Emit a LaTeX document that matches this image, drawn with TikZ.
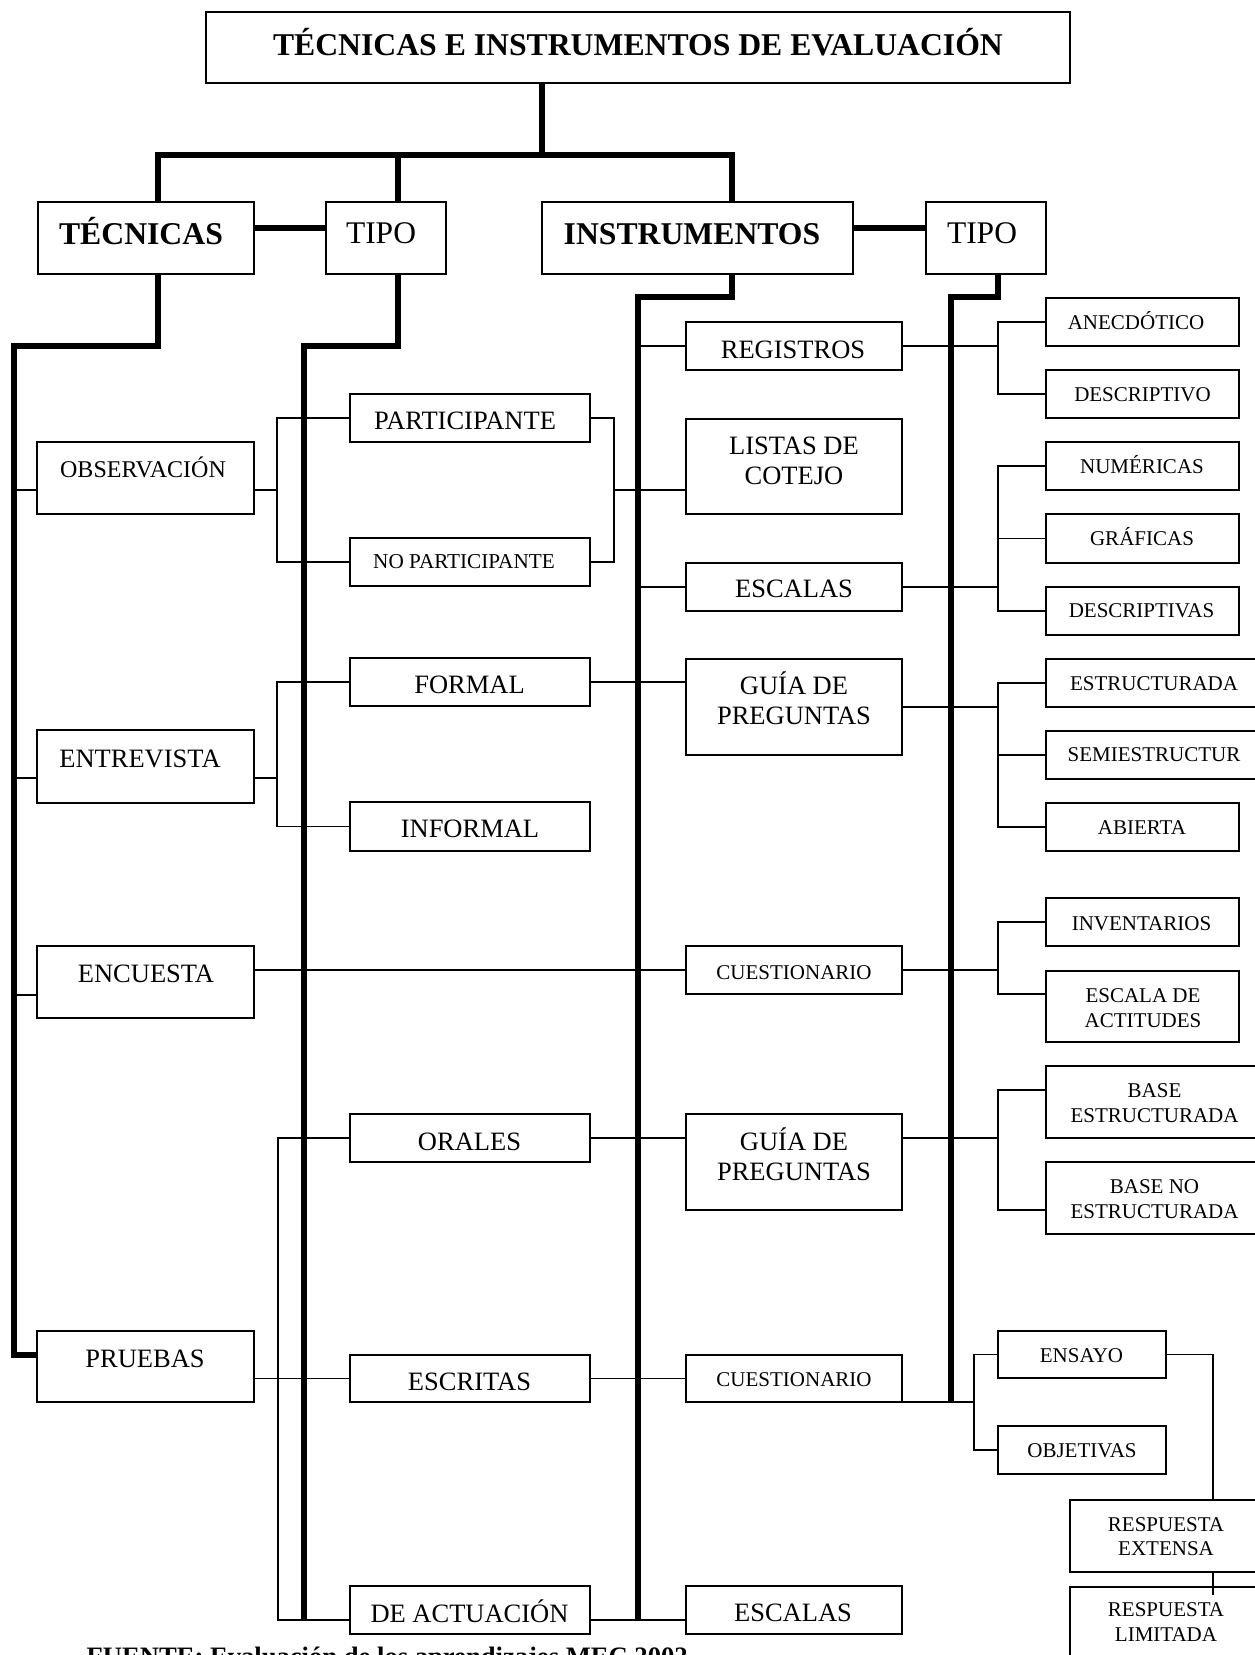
\documentclass[tikz,border=0pt]{standalone}
\usepackage{fontspec}
\setmainfont{Liberation Serif}
\newcommand\fzBold{\bfseries\fontsize{31.7}{36}\selectfont}
\newcommand\fzTipo{\fontsize{31.5}{36}\selectfont}
\newcommand\fzBig{\fontsize{26.5}{30.5}\selectfont}
\newcommand\fzObs{\fontsize{24}{28}\selectfont}
\newcommand\fzNop{\fontsize{21.2}{25}\selectfont}
\newcommand\fzSmall{\fontsize{21}{25}\selectfont}
\newcommand\twol[2]{\vtop{\halign{\hfil##\hfil\cr#1\cr#2\cr}}}
\newcommand\bx[5]{\node[box,minimum width={(#4-#2)*1pt},minimum height={(#5-#3)*1pt}] (#1) at (#2,#3) {};}
\newcommand\tx[5]{\node[txt,font=#4] (#1) at (#2,#3) {#5};}
\tikzset{
  box/.style={draw,line width=1.8pt,anchor=north west,inner sep=0pt,outer sep=0pt},
  txt/.style={anchor=base,inner sep=0pt},
  conn/.style={line width=1.8pt},
  trunk/.style={line width=5.5pt}
}
\begin{document}
\begin{tikzpicture}[x=1pt,y=-1pt]
\useasboundingbox (0,0) rectangle (1255,1655);
% ---------- boxes
\bx{title}{206}{12}{1070}{83}
\bx{tec}{38}{202}{254}{274}
\bx{tipoL}{326}{202}{446}{274}
\bx{ins}{542}{202}{853}{274}
\bx{tipoR}{926}{202}{1046}{274}
\bx{obs}{37}{442}{254}{514}
\bx{ent}{37}{730}{254}{803}
\bx{enc}{37}{946}{254}{1018}
\bx{pru}{37}{1331}{254}{1402}
\bx{par}{350}{394}{590}{442}
\bx{nop}{350}{538}{590}{586}
\bx{for}{350}{658}{590}{706}
\bx{inf}{350}{802}{590}{851}
\bx{ora}{350}{1114}{590}{1162}
\bx{esc}{350}{1355}{590}{1402}
\bx{act}{350}{1586}{590}{1634}
\bx{reg}{686}{322}{902}{370}
\bx{lis}{686}{419}{902}{514}
\bx{esl}{686}{563}{902}{611}
\bx{gu1}{686}{659}{902}{755}
\bx{cu1}{686}{946}{902}{994}
\bx{gu2}{686}{1114}{902}{1210}
\bx{cu2}{686}{1355}{902}{1402}
\bx{es2}{686}{1586}{902}{1634}
\bx{ane}{1046}{298}{1239}{346}
\bx{des}{1046}{370}{1239}{418}
\bx{num}{1046}{442}{1239}{490}
\bx{gra}{1046}{514}{1239}{563}
\bx{dsc}{1046}{587}{1239}{635}
\bx{est}{1046}{659}{1262}{707}
\bx{sem}{1046}{731}{1262}{779}
\bx{abi}{1046}{803}{1239}{851}
\bx{inv}{1046}{898}{1239}{946}
\bx{eda}{1046}{971}{1239}{1042}
\bx{bes}{1046}{1066}{1262}{1138}
\bx{bne}{1046}{1162}{1262}{1234}
\bx{ens}{998}{1331}{1166}{1378}
\bx{obj}{998}{1426}{1166}{1474}
\bx{rex}{1070}{1500}{1262}{1572}
\bx{rli}{1070}{1587}{1262}{1690}
% ---------- texts
\tx{title-t}{638}{55}{\fzBold}{TÉCNICAS E INSTRUMENTOS DE EVALUACIÓN}
\tx{tec-t}{141}{244}{\fzBold}{TÉCNICAS}
\tx{tipoL-t}{381}{243}{\fzTipo}{TIPO}
\tx{ins-t}{692}{244}{\fzBold}{INSTRUMENTOS}
\tx{tipoR-t}{982}{243}{\fzTipo}{TIPO}
\tx{obs-t}{143}{477}{\fzObs}{OBSERVACIÓN}
\tx{ent-t}{140}{767}{\fzBig}{ENTREVISTA}
\tx{enc-t}{146}{982}{\fzBig}{ENCUESTA}
\tx{pru-t}{145}{1367}{\fzBig}{PRUEBAS}
\tx{par-t}{465}{429}{\fzBig}{PARTICIPANTE}
\tx{nop-t}{464}{568}{\fzNop}{NO PARTICIPANTE}
\tx{for-t}{469.5}{693}{\fzBig}{FORMAL}
\tx{inf-t}{470}{837}{\fzBig}{INFORMAL}
\tx{ora-t}{469.5}{1150}{\fzBig}{ORALES}
\tx{esc-t}{469.5}{1390.5}{\fzBig}{ESCRITAS}
\tx{act-t}{469.5}{1622}{\fzBig}{DE ACTUACIÓN}
\tx{reg-t}{793}{358}{\fzBig}{REGISTROS}
\tx{lis-t}{794}{454}{\fzBig}{\twol{LISTAS DE}{COTEJO}}
\tx{esl-t}{794}{597}{\fzBig}{ESCALAS}
\tx{gu1-t}{794}{694}{\fzBig}{\twol{GUÍA DE}{PREGUNTAS}}
\tx{cu1-t}{794}{979}{\fzSmall}{CUESTIONARIO}
\tx{gu2-t}{794}{1150}{\fzBig}{\twol{GUÍA DE}{PREGUNTAS}}
\tx{cu2-t}{794}{1386.5}{\fzSmall}{CUESTIONARIO}
\tx{es2-t}{793}{1621}{\fzBig}{ESCALAS}
\tx{ane-t}{1136}{329}{\fzSmall}{ANECDÓTICO}
\tx{des-t}{1142.5}{401}{\fzSmall}{DESCRIPTIVO}
\tx{num-t}{1142}{473.5}{\fzSmall}{NUMÉRICAS}
\tx{gra-t}{1142}{545.5}{\fzSmall}{GRÁFICAS}
\tx{dsc-t}{1141.5}{617}{\fzSmall}{DESCRIPTIVAS}
\tx{est-t}{1154}{690}{\fzSmall}{ESTRUCTURADA}
\tx{sem-t}{1154}{761.6}{\fzSmall}{SEMIESTRUCTUR}
\tx{abi-t}{1142}{834.4}{\fzSmall}{ABIERTA}
\tx{inv-t}{1141.5}{930.5}{\fzSmall}{INVENTARIOS}
\tx{eda-t}{1143}{1002}{\fzSmall}{\twol{ESCALA DE}{ACTITUDES}}
\tx{bes-t}{1154.5}{1097}{\fzSmall}{\twol{BASE}{ESTRUCTURADA}}
\tx{bne-t}{1154.5}{1193.4}{\fzSmall}{\twol{BASE NO}{ESTRUCTURADA}}
\tx{ens-t}{1081.5}{1362}{\fzSmall}{ENSAYO}
\tx{obj-t}{1082}{1457.7}{\fzSmall}{OBJETIVAS}
\tx{rex-t}{1166}{1531.7}{\fontsize{21}{23.5}\selectfont}{\twol{RESPUESTA}{EXTENSA}}
\tx{rli-t}{1166}{1616.7}{\fzSmall}{\twol{RESPUESTA}{LIMITADA}}
\node[anchor=base west,inner sep=0pt,font=\bfseries\fontsize{26.6}{30}\selectfont] (fuente) at (86.5,1665) {FUENTE: Evaluación de los aprendizajes MEC 2002};
% ---------- helper coordinates
\coordinate (bar) at (542,155);
\coordinate (b1) at (158,155);
\coordinate (b2) at (398,155);
\coordinate (b3) at (732,155);
\coordinate (b4) at (998,155);
\coordinate (lk) at (0,228);
\coordinate (tL) at (14,346);
\coordinate (tT) at (304,346);
\coordinate (tI) at (638,297);
\coordinate (tR) at (951,297);
\coordinate (yA) at (0,1620);
\coordinate (k1) at (277,490);
\coordinate (k2) at (614,490);
\coordinate (k3) at (277,778);
\coordinate (k4) at (278,1620);
\coordinate (rc) at (998,0);
\coordinate (rc2) at (974,0);
\coordinate (rx) at (1213,0);
% ---------- thick trunks
\draw[trunk] (title.south -| bar) -- (bar);
\draw[trunk] (tec.north -| b1) -- (b1) -- (b3) -- (ins.north -| b3);
\draw[trunk] (b2) -- (tipoL.north -| b2);
\draw[trunk] (tec.east |- lk) -- (tipoL.west |- lk);
\draw[trunk] (ins.east |- lk) -- (tipoR.west |- lk);
\draw[trunk] (tec.south -| b1) |- (tL) |- (pru.west |- 0,1355);
\draw[trunk] (tipoL.south -| b2) |- (tT) -- (tT |- yA);
\draw[trunk] (ins.south -| b3) |- (tI) -- (tI |- yA);
\draw[trunk] (tipoR.south -| b4) |- (tR) -- (tR |- cu2.south);
% ---------- thin connectors, left
\draw[conn] (tL |- k1) -- (obs.west |- k1);
\draw[conn] (obs.east |- k1) -- (k1);
\draw[conn] (par.west) -| (k1) |- (nop.west);
\draw[conn] (par.east) -| (k2) |- (nop.east);
\draw[conn] (k2) -- (lis.west |- k2);
\draw[conn] (tL |- k3) -- (ent.west |- k3);
\draw[conn] (ent.east |- k3) -- (k3);
\draw[conn] (for.west) -| (k3) |- (inf.west);
\draw[conn] (for.east) -- (gu1.west |- for.east);
\draw[conn] (tL |- 0,995) -- (enc.west |- 0,995);
\draw[conn] (enc.east |- cu1.west) -- (cu1.west);
\draw[conn] (pru.east |- esc.west) -- (esc.west);
\draw[conn] (ora.west) -| (k4) -- (act.west |- k4);
\draw[conn] (ora.east) -- (gu2.west |- ora.east);
\draw[conn] (esc.east) -- (cu2.west);
\draw[conn] (act.east |- k4) -- (es2.west |- k4);
% ---------- middle
\draw[conn] (tI |- reg.west) -- (reg.west);
\draw[conn] (tI |- esl.west) -- (esl.west);
% ---------- right
\draw[conn] (reg.east) -- (rc |- reg.east);
\draw[conn] (ane.west) -| (rc |- reg.east) |- (des.west);
\draw[conn] (esl.east) -- (rc |- esl.east);
\draw[conn] (num.west) -| (rc |- esl.east) |- (dsc.west);
\draw[conn] (gra.west) -- (rc |- gra.west);
\draw[conn] (gu1.east) -- (rc |- gu1.east);
\draw[conn] (est.west) -| (rc |- gu1.east) |- (abi.west);
\draw[conn] (sem.west) -- (rc |- sem.west);
\draw[conn] (cu1.east) -- (rc |- cu1.east);
\draw[conn] (inv.west) -| (rc |- cu1.east) |- (eda.west |- 0,994);
\draw[conn] (gu2.east |- ora.east) -- (rc |- ora.east);
\draw[conn] (bes.west |- 0,1090) -| (rc |- ora.east) |- (bne.west |- 0,1210);
\draw[conn] (cu2.south east) -- (rc2 |- cu2.south);
\draw[conn] (ens.west) -| (rc2 |- cu2.south) |- (obj.west);
\draw[conn] (ens.east) -| (rx |- rex.north);
\draw[conn] (rx |- rex.south) -- (rx |- 0,1595);
\end{tikzpicture}
\end{document}
